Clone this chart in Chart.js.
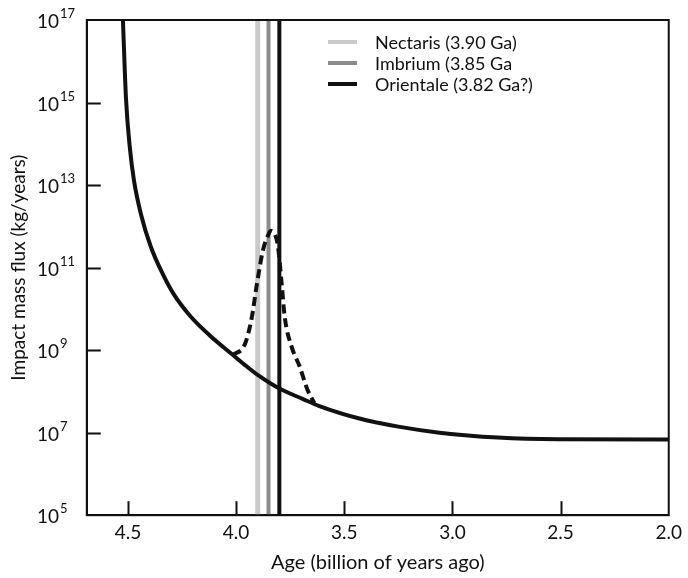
<!DOCTYPE html>
<html><head><meta charset="utf-8">
<script src="https://cdn.jsdelivr.net/npm/chart.js@4.4.1/dist/chart.umd.min.js"></script>
<style>html,body{margin:0;padding:0;background:#fff;}#wrap{width:688px;height:578px;position:relative;}</style>
</head><body>
<div id="wrap"><canvas id="c" width="688" height="578"></canvas></div>
<script>
// ---- data ----
const solidAge  = [4.523, 4.509, 4.491, 4.472, 4.44, 4.394, 4.339, 4.289, 4.211, 4.119, 4.014, 3.95, 3.89, 3.80, 3.69, 3.615, 3.43, 3.25, 3.06, 2.79, 2.51, 2.0];
const solidFlux = [1e17, 1.3e15, 8e13, 1.3e13, 2e12, 3.2e11, 7e10, 2.3e10, 6.6e9, 2.2e9, 7.6e8, 4e8, 2.3e8, 1.17e8, 6.5e7, 4.4e7, 2.2e7, 1.4e7, 1e7, 7.6e6, 6.9e6, 6.8e6];
const spikeAge  = [4.014, 3.959, 3.927, 3.904, 3.876, 3.855, 3.839, 3.82, 3.807, 3.789, 3.775, 3.743, 3.706, 3.67, 3.638];
const spikeFlux = [7.6e8, 1.4e9, 6.3e9, 3.9e10, 2.6e11, 5.6e11, 7.8e11, 6.3e11, 3.5e11, 3.9e10, 6.3e9, 1.2e9, 4e8, 1.1e8, 5.2e7];
const basinNames = ['Nectaris (3.90 Ga)', 'Imbrium (3.85 Ga', 'Orientale (3.82 Ga?)'];
const basinAges  = [3.90, 3.85, 3.80];
const basinColors = ['#c9c9c9', '#8c8c8c', '#111111'];
const basinWidths = [5, 4, 4];
const xTicks = [4.5, 4.0, 3.5, 3.0, 2.5, 2.0];
const yExps  = [5, 7, 9, 11, 13, 15, 17];
const xTitle = 'Age (billion of years ago)';
const yTitle = 'Impact mass flux (kg/years)';

const FONT = 'Lato';
const pts = (xs, ys) => xs.map((x, i) => ({x: x, y: ys[i]}));

const datasets = [
  {label: 'flux', data: pts(solidAge, solidFlux), borderColor: '#111', borderWidth: 4,
   pointRadius: 0, cubicInterpolationMode: 'monotone', fill: false},
  {label: 'spike', data: pts(spikeAge, spikeFlux), borderColor: '#111', borderWidth: 4,
   borderDash: [9, 5], pointRadius: 0, cubicInterpolationMode: 'monotone', fill: false}
];
basinAges.forEach((a, i) => {
  datasets.push({label: basinNames[i], data: [{x: a, y: 1e5}, {x: a, y: 1e17}],
    borderColor: basinColors[i], borderWidth: basinWidths[i], pointRadius: 0, fill: false});
});

const decor = {
  id: 'decor',
  afterDraw(chart) {
    const {ctx, chartArea: a, scales: {x, y}} = chart;
    ctx.save();
    ctx.strokeStyle = '#111';
    ctx.lineWidth = 2;
    ctx.strokeRect(a.left, a.top, a.right - a.left, a.bottom - a.top);
    yExps.forEach(e => {
      const py = Math.round(y.getPixelForValue(Math.pow(10, e))) + 0.5;
      if (e === 5 || e === 17) return;
      ctx.beginPath(); ctx.moveTo(a.left, py); ctx.lineTo(a.left + 14, py); ctx.stroke();
    });
    xTicks.forEach(v => {
      if (v === 2.0) return;
      const px = Math.round(x.getPixelForValue(v)) + 0.5;
      ctx.beginPath(); ctx.moveTo(px, a.bottom); ctx.lineTo(px, a.bottom - 14); ctx.stroke();
    });
    ctx.fillStyle = '#111';
    ctx.textBaseline = 'middle';
    yExps.forEach(e => {
      const py = y.getPixelForValue(Math.pow(10, e));
      ctx.font = '19px ' + FONT; ctx.textAlign = 'right';
      ctx.fillText('10', 59, py + 2);
      ctx.font = '13px ' + FONT; ctx.textAlign = 'left';
      ctx.fillText(String(e), 60, py - 6);
    });
    // legend
    const rows = [42, 63, 84];
    basinNames.forEach((n, i) => {
      ctx.strokeStyle = basinColors[i];
      ctx.lineWidth = 4;
      ctx.beginPath(); ctx.moveTo(328, rows[i]); ctx.lineTo(357, rows[i]); ctx.stroke();
      ctx.font = '18px ' + FONT; ctx.textAlign = 'left'; ctx.fillStyle = '#111';
      ctx.fillText(n, 375, rows[i] + 1);
    });
    ctx.restore();
  }
};

new Chart(document.getElementById('c'), {
  type: 'line',
  data: {datasets: datasets},
  options: {
    responsive: false, animation: false, devicePixelRatio: 1,
    layout: {padding: {left: 0, right: 17, top: 20, bottom: 0}},
    plugins: {legend: {display: false}, tooltip: {enabled: false}},
    scales: {
      x: {
        type: 'linear', reverse: true, min: 2.0, max: 4.69,
        afterBuildTicks: s => { s.ticks = xTicks.map(v => ({value: v})); },
        ticks: {autoSkip: false, maxRotation: 0, padding: 6, color: '#111',
                font: {family: FONT, size: 19}, callback: v => Number(v).toFixed(1)},
        grid: {drawOnChartArea: false, drawTicks: false},
        border: {display: true, color: '#111', width: 2},
        title: {display: true, text: xTitle, color: '#111', font: {family: FONT, size: 20},
                padding: {top: 1, bottom: 3}}
      },
      y: {
        type: 'logarithmic', min: 1e5, max: 1e17,
        ticks: {display: false},
        grid: {drawOnChartArea: false, drawTicks: false},
        border: {display: true, color: '#111', width: 2},
        title: {display: true, text: yTitle, color: '#111', font: {family: FONT, size: 19},
                padding: {top: 7, bottom: 57}}
      }
    }
  },
  plugins: [decor]
});
</script>
</body></html>
